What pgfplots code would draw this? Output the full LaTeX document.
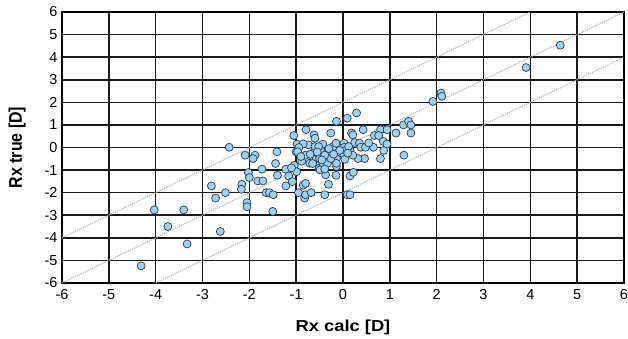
\documentclass[border=0pt]{standalone}
\usepackage{pgfplots}
\pgfplotsset{compat=1.18}
\usepackage{fontspec}
\setmainfont{Liberation Sans}
\definecolor{ptfill}{HTML}{9DD0F2}
\definecolor{ptdraw}{HTML}{2E3E4E}
\begin{document}
\begin{tikzpicture}
\begin{axis}[
  scale only axis, width=562bp, height=271bp,
  xmin=-6, xmax=6, ymin=-6, ymax=6,
  xtick distance=1, ytick distance=1,
  grid=major, major grid style={black!90, line width=1.6bp},
  axis line style={black, line width=1.8bp},
  major tick length=0pt,
  tick label style={font=\fontsize{14.5}{16}\selectfont},
  /pgf/number format/assume math mode=true,
  xticklabel style={yshift=-3bp},
  yticklabel style={xshift=-1bp},
  xlabel={\textbf{Rx calc [D]}}, ylabel={\textbf{Rx true [D]}},
  xlabel style={font=\fontsize{16}{18}\selectfont, xscale=1.15, at={(axis description cs:0.5,-0.163)}, anchor=center},
  ylabel style={font=\fontsize{16}{18}\selectfont, yscale=1.15, at={(axis description cs:-0.08,0.5)}, anchor=center},
  clip=true,
]
\addplot[gray!60, densely dotted, line width=1.1bp, forget plot] coordinates {(-6,-6) (6,6)};
\addplot[gray!60, densely dotted, line width=1.1bp, forget plot] coordinates {(-6,-4) (4,6)};
\addplot[gray!60, densely dotted, line width=1.1bp, forget plot] coordinates {(-4,-6) (6,4)};
\addplot[only marks, mark=*, mark size=4bp, mark options={fill=ptfill, draw=ptdraw, line width=0.7bp}] coordinates {
(4.64,4.53) (3.91,3.54) (2.09,2.41) (2.11,2.27) (1.92,2.04)
(0.29,1.53) (0.09,1.30) (-0.14,1.16) (1.29,1.0) (1.40,1.16) (1.45,1.0)
(1.13,0.64) (1.45,0.64) (0.43,0.79) (0.80,0.79) (0.94,0.79) (-0.79,0.79)
(-0.26,0.64) (0.18,0.64) (0.21,0.56) (-1.05,0.53) (-0.62,0.56) (-0.60,0.41)
(0.67,0.53) (0.76,0.53) (0.86,0.27) (0.94,0.15) (0.87,-0.13) (0.65,0.01)
(-2.43,0.01) (1.30,-0.34) (0.80,-0.49) (0.46,-0.49) (-2.09,-0.34) (-1.88,-0.34)
(-1.92,-0.49) (-1.41,-0.19) (-1.44,-0.71) (-1.40,-1.23) (-1.73,-0.96) (-2.02,-1.11)
(-2.0,-1.33) (-1.82,-1.48) (-1.71,-1.48) (-2.16,-1.63) (-2.17,-1.85) (-2.81,-1.70)
(-2.72,-2.24) (-2.51,-2.0) (-2.05,-2.44) (-2.05,-2.62) (-1.64,-2.0) (-1.57,-2.0)
(-1.49,-2.09) (-1.50,-2.83) (-2.62,-3.72) (-4.03,-2.76) (-3.40,-2.76) (-3.74,-3.50)
(-3.33,-4.27) (-4.31,-5.24) (-1.22,-1.70) (-1.16,-1.26) (-1.22,-0.96) (-1.04,-0.79)
(-0.99,-1.07) (-1.08,-1.51) (-0.95,-2.0) (-0.85,-1.67) (-0.80,-1.59) (-0.82,-2.24)
(-0.80,-2.09) (-0.68,-2.0) (-0.39,-2.09) (-0.31,-1.63) (-0.37,-1.21) (-0.15,-1.23)
(0.09,-2.09) (0.15,-2.09) (0.15,-1.26) (0.22,-1.10) (-0.14,-0.84) (-0.88,-0.61)
(-1.0,-0.19) (-0.98,0.15) (-0.74,0.12) (-0.80,-0.34) (-0.67,-0.49) (-0.57,-0.49)
(-0.51,-0.34) (-0.43,-0.19) (-0.43,0.15) (-0.21,0.04) (-0.15,0.19) (0.02,0.19)
(0.03,0.01) (0.15,-0.13) (0.25,0.22) (0.35,0.19) (0.38,0.01) (0.48,0.01)
(0.32,-0.49) (0.21,-0.34) (0.02,-0.34) (-0.14,-0.49) (-0.26,-0.34) (-0.33,-0.19)
(-0.50,-0.49) (-0.62,-0.19) (-0.71,-0.70) (-0.65,-0.71) (-0.51,-0.92) (-0.43,-0.70)
(-0.33,-0.70) (-0.14,-0.70) (-0.26,-0.49) (-0.39,-0.34) (-0.60,0.04) (-0.52,0.04)
(-0.85,0.16) (-0.94,0.0) (-0.97,-0.19) (-0.49,-0.99) (-0.39,-0.95) (0.04,-0.52)
(0.05,-0.13) (-0.07,-0.13) (0.12,0.04) (-0.70,-0.30) (-0.55,-0.20) (-0.30,-0.05)
(0.10,-0.25) (-0.90,-0.40) (-1.10,-0.90) (0.55,0.20) (-0.20,-0.30) (-0.45,-0.55)
};
\end{axis}
\pgfresetboundingbox
\path (-62bp,-56bp) rectangle (566bp,283bp);
\end{tikzpicture}
\end{document}
